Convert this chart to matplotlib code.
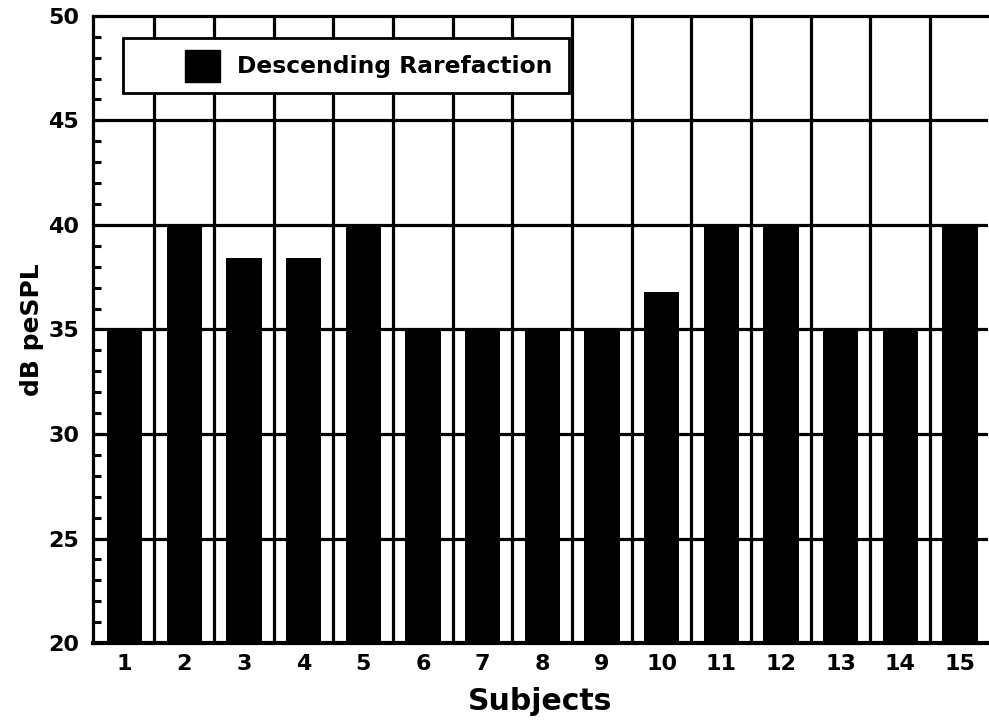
import matplotlib
matplotlib.use("Agg")
import matplotlib.pyplot as plt
from matplotlib.patches import Rectangle

plt.rcParams['font.family'] = ['DejaVu Sans']
plt.rcParams['font.weight'] = 'bold'

subjects = list(range(1, 16))
thresholds = [35, 40, 38.4, 38.4, 40, 35, 35, 35, 35, 36.8, 40, 40, 35, 35, 40]
series_name = 'Descending Rarefaction'

fig = plt.figure(figsize=(9.89, 7.21), dpi=100)
ax = fig.add_axes([0.094, 0.108, 0.905, 0.870])

ax.bar(subjects, thresholds, width=0.59, bottom=0, color='black', zorder=3)

# grid: horizontal at every 5 dB, vertical between subjects
for y in range(25, 50, 5):
    ax.axhline(y, color='black', lw=2.3, zorder=2)
for s in subjects[:-1]:
    ax.axvline(s + 0.5, color='black', lw=2.3, zorder=2)

ax.set_xlim(0.47, 15.47)
ax.set_ylim(20, 50)
ax.set_xticks(subjects)
ax.set_xticklabels([str(s) for s in subjects])
ax.set_yticks(range(20, 51, 5))
ax.set_yticks(range(20, 51, 1), minor=True)

ax.tick_params(axis='x', length=0, pad=8, labelsize=16)
ax.tick_params(axis='y', which='both', direction='in', length=6, width=2.2,
               pad=10, labelsize=16)

ax.spines['right'].set_visible(False)
ax.spines['left'].set_linewidth(2.3)
ax.spines['top'].set_linewidth(2.3)
ax.spines['bottom'].set_linewidth(3)

ax.set_xlabel('Subjects', fontsize=21.5, fontweight='bold', labelpad=9)
ax.set_ylabel('dB peSPL', fontsize=18, fontweight='bold', labelpad=3)

# legend box
ax.add_patch(Rectangle((0.0335, 0.877), 0.4985, 0.088, transform=ax.transAxes,
                       facecolor='white', edgecolor='black', lw=2, zorder=5))
ax.add_patch(Rectangle((0.103, 0.895), 0.039, 0.051, transform=ax.transAxes,
                       facecolor='black', edgecolor='black', zorder=6))
ax.text(0.161, 0.919, series_name, transform=ax.transAxes, fontsize=16.8,
        fontweight='bold', va='center', ha='left', zorder=6)

fig.savefig('out.png', dpi=100)
